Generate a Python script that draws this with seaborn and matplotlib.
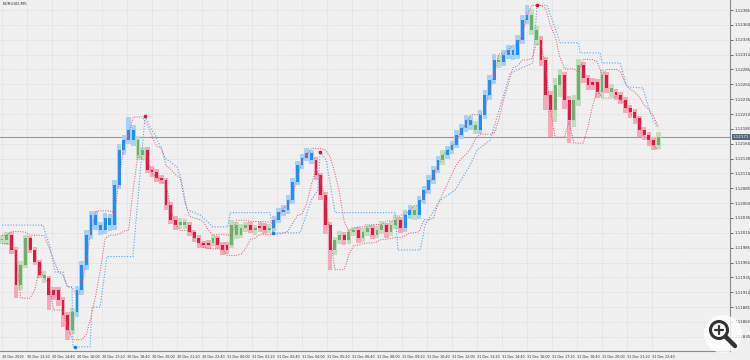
import numpy as np
import pandas as pd
import matplotlib
matplotlib.use("Agg")
import matplotlib.pyplot as plt
import matplotlib.transforms as mtransforms
from matplotlib.patches import Circle
import seaborn as sns

# ---------------- data ----------------
chart_title = "EURUSD,M5"
bar_minutes = 15
first_open = 1.12000

closes = [
    1.11998, 1.12007, 1.11981, 1.11922, 1.11956, 1.12001, 1.11981, 1.11961, 1.11939, 1.11934,
    1.11905, 1.11914, 1.11897, 1.11872, 1.11847, 1.11877, 1.11914, 1.11956, 1.12007, 1.12040,
    1.12023, 1.12015, 1.12035, 1.12023, 1.12091, 1.12149, 1.12166, 1.12183, 1.12166, 1.12141,
    1.12149, 1.12116, 1.12112, 1.12102, 1.12099, 1.12057, 1.12032, 1.12023, 1.12028, 1.12023,
    1.12011, 1.12001, 1.11993, 1.11990, 1.11993, 1.12001, 1.11990, 1.11981, 1.11990, 1.12023,
    1.12007, 1.12018, 1.12023, 1.12015, 1.12018, 1.12022, 1.12015, 1.12018, 1.12032, 1.12045,
    1.12049, 1.12065, 1.12096, 1.12124, 1.12136, 1.12144, 1.12133, 1.12107, 1.12074, 1.12023,
    1.11981, 1.11998, 1.12007, 1.11998, 1.12011, 1.12015, 1.12001, 1.12011, 1.12018, 1.12007,
    1.12015, 1.12023, 1.12011, 1.12023, 1.12032, 1.12018, 1.12040, 1.12049, 1.12040, 1.12065,
    1.12082, 1.12099, 1.12116, 1.12133, 1.12141, 1.12149, 1.12158, 1.12175, 1.12186, 1.12200,
    1.12191, 1.12183, 1.12208, 1.12242, 1.12267, 1.12301, 1.12297, 1.12309, 1.12318, 1.12309,
    1.12335, 1.12368, 1.12377, 1.12351, 1.12335, 1.12301, 1.12242, 1.12217, 1.12259, 1.12276,
    1.12234, 1.12200, 1.12234, 1.12292, 1.12271, 1.12259, 1.12264, 1.12247, 1.12276, 1.12254,
    1.12247, 1.12242, 1.12234, 1.12220, 1.12213, 1.12203, 1.12183, 1.12175, 1.12166, 1.12158,
    1.12171,
]

# upper / lower wick lengths in points (1 point = 0.00001)
wick_up = [
    6, 5, 4, 5, 6, 5, 4, 5, 4, 6,
    4, 5, 4, 5, 4, 6, 6, 7, 8, 6,
    7, 6, 8, 6, 8, 10, 9, 22, 8, 7,
    6, 5, 7, 5, 6, 4, 5, 6, 7, 5,
    5, 4, 5, 4, 5, 6, 4, 5, 4, 8,
    6, 7, 5, 6, 5, 6, 4, 6, 7, 6,
    7, 8, 6, 7, 6, 8, 5, 5, 4, 4,
    6, 5, 6, 4, 6, 5, 4, 7, 6, 5,
    6, 7, 4, 7, 8, 5, 8, 7, 6, 7,
    6, 8, 7, 6, 8, 7, 6, 8, 7, 9,
    6, 7, 8, 9, 8, 10, 8, 9, 8, 7,
    8, 9, 16, 10, 8, 6, 5, 6, 12, 10,
    5, 6, 8, 10, 6, 5, 7, 5, 9, 5,
    6, 5, 5, 4, 5, 5, 4, 5, 4, 5,
    8,
]
wick_dn = [
    6, 8, 6, 22, 8, 6, 5, 6, 5, 8,
    25, 8, 10, 20, 17, 8, 8, 9, 8, 7,
    8, 9, 7, 10, 9, 7, 8, 7, 9, 8,
    7, 6, 8, 6, 7, 8, 7, 9, 6, 7,
    6, 7, 8, 6, 7, 6, 8, 9, 7, 6,
    8, 6, 7, 6, 8, 6, 7, 6, 5, 6,
    6, 7, 6, 5, 6, 5, 7, 8, 9, 15,
    33, 8, 7, 9, 6, 7, 8, 6, 7, 8,
    6, 7, 9, 6, 7, 8, 6, 7, 8, 6,
    7, 6, 7, 6, 8, 6, 7, 6, 7, 6,
    8, 7, 6, 7, 8, 7, 9, 6, 7, 8,
    6, 7, 6, 8, 9, 10, 25, 46, 20, 20,
    15, 39, 12, 10, 9, 8, 9, 10, 8, 9,
    8, 9, 7, 8, 10, 9, 11, 8, 10, 9,
    7,
]

# bar colour state: B = up trend (blue), R = down trend (red), G = neutral (green)
bar_states = (
    "GGRRGGRRRG" "RRRRRGBBBB" "BBBBBBBBBG" "GRRRRRRRGG" "RRRRRGRRRG"
    "GGGRGRRGBB" "BBBBBBBRRR" "RGGRGGRGGR" "GGRGGRBBGB" "BBBBGBBBBB"
    "BGBBBBGBBB" "BBBGGRRRGG" "RRGGRRRRGR" "GRRRRRRRRR" "G"
)

# blue dotted trailing line (minutes since first bar, price)
stop_minutes = [0, 131, 154, 170, 195, 208, 224, 227, 282, 288, 314, 336, 419,
                458, 474, 490, 522, 560, 573, 592, 634, 675, 723, 730, 858,
                867, 954, 990, 1011, 1018, 1037, 1066, 1258, 1267, 1338, 1354,
                1402, 1450, 1498, 1520, 1562, 1626, 1699, 1712, 1744, 1776,
                1786, 1845, 1850, 1914, 1920, 1978, 2000, 2051, 2074, 2096]
stop_prices = [1.12023, 1.12023, 1.11986, 1.11944, 1.11944, 1.11919, 1.11919,
               1.11818, 1.11818, 1.11885, 1.11885, 1.11970, 1.11970, 1.12207,
               1.12188, 1.12175, 1.12136, 1.12121, 1.12102, 1.12049, 1.12040,
               1.12020, 1.12020, 1.12044, 1.12044, 1.12010, 1.12010, 1.12065,
               1.12082, 1.12146, 1.12133, 1.12044, 1.12044, 1.11981, 1.11981,
               1.12023, 1.12065, 1.12082, 1.12124, 1.12149, 1.12166, 1.12279,
               1.12296, 1.12393, 1.12393, 1.12346, 1.12330, 1.12330, 1.12313,
               1.12313, 1.12296, 1.12296, 1.12256, 1.12254, 1.12212, 1.12187]

sell_minutes = [458, 1018, 1712]
sell_prices = [1.12207, 1.12146, 1.12393]
buy_minutes = [234, 867]
buy_prices = [1.11818, 1.12010]

x_tick_labels = [
    "30 Dec 2019", "30 Dec 13:20", "30 Dec 14:40", "30 Dec 16:00", "30 Dec 17:20",
    "30 Dec 18:40", "30 Dec 20:00", "30 Dec 21:20", "30 Dec 22:40", "31 Dec 00:00",
    "31 Dec 01:20", "31 Dec 02:40", "31 Dec 04:00", "31 Dec 05:20", "31 Dec 06:40",
    "31 Dec 08:00", "31 Dec 09:20", "31 Dec 10:40", "31 Dec 12:00", "31 Dec 13:20",
    "31 Dec 14:40", "31 Dec 16:00", "31 Dec 17:20", "31 Dec 18:40", "31 Dec 20:00",
    "31 Dec 21:20", "31 Dec 22:40",
]
x_tick_step_minutes = 80

y_tick_labels = [
    "1.11835", "1.11860", "1.11885", "1.11910", "1.11935", "1.11960", "1.11985",
    "1.12010", "1.12035", "1.12060", "1.12085", "1.12110", "1.12135", "1.12160",
    "1.12185", "1.12210", "1.12235", "1.12260", "1.12285", "1.12310", "1.12335",
    "1.12360", "1.12385",
]

# ---------------- styling ----------------
BG = "#f0f0f0"
GRID = "#d6d6d6"
COL = {"B": ("#1e8ff5", "#a9d0f5"), "R": ("#dc1a44", "#f4aab9"), "G": ("#6fb06c", "#bfdfbc")}
RED_DOT_LINE = "#e0506e"
BLUE_DOT_LINE = "#5ba3e6"
DOTS = (0, (1, 1.5))

sns.set_theme(style="white")
plt.rcParams["font.family"] = ["DejaVu Sans"]

fig = plt.figure(figsize=(7.5, 3.6), dpi=100, facecolor=BG)
ax = fig.add_axes([0.0, 9 / 360, 730 / 750, 351 / 360])
ax.set_facecolor(BG)

n = len(closes)
df = pd.DataFrame({
    "minute": np.arange(n) * bar_minutes,
    "close": closes,
    "state": list(bar_states[:n]),
})
df["open"] = [first_open] + closes[:-1]
df["high"] = np.maximum(df["open"], df["close"]) + np.array(wick_up) * 1e-5
df["low"] = np.minimum(df["open"], df["close"]) - np.array(wick_dn) * 1e-5
df["body_lo"] = np.minimum(df["open"], df["close"])
df["body_h"] = np.maximum((df["close"] - df["open"]).abs(), 1.5e-5)

# lagging channel of the recent bar extremes
df["env_hi"] = df["high"].rolling(3, min_periods=1).max().shift(1).bfill()
df["env_lo"] = df["low"].rolling(3, min_periods=1).min().shift(1).bfill()

# candles: light range then saturated body
for st, (dark, light) in COL.items():
    d = df[df["state"] == st]
    ax.bar(d["minute"], d["high"] - d["low"], bottom=d["low"], width=14.5,
           color=light, linewidth=0, zorder=2)
for st, (dark, light) in COL.items():
    d = df[df["state"] == st]
    ax.bar(d["minute"], d["body_h"], bottom=d["body_lo"], width=9,
           color=dark, linewidth=0, zorder=3)

sns.lineplot(x=df["minute"], y=df["env_hi"], ax=ax, color=RED_DOT_LINE, lw=0.7,
             linestyle=DOTS, zorder=4)
sns.lineplot(x=df["minute"], y=df["env_lo"], ax=ax, color=RED_DOT_LINE, lw=0.7,
             linestyle=DOTS, zorder=4)
sns.lineplot(x=stop_minutes, y=stop_prices, ax=ax, sort=False, estimator=None,
             color=BLUE_DOT_LINE, lw=0.8, linestyle=DOTS, zorder=4)

sns.scatterplot(x=sell_minutes, y=sell_prices, ax=ax, color="#e0102a", s=7,
                linewidth=0, zorder=6)
sns.scatterplot(x=buy_minutes, y=buy_prices, ax=ax, color="#1e7fe0", s=7,
                linewidth=0, zorder=6)

# bid line and price box
last = closes[-1]
ax.axhline(last, color="#9a9a9a", lw=0.8, zorder=1)
trans = mtransforms.blended_transform_factory(ax.transAxes, ax.transData)
ax.text(1.004, last, f"{last:.5f}", transform=trans, fontsize=3, color="white",
        va="center", ha="left",
        bbox=dict(boxstyle="square,pad=0.25", facecolor="#55657a", edgecolor="none"),
        zorder=10, clip_on=False)

# axes
ax.set_xlim(-6.4, 2329.6)
ax.set_ylim(1.11811, 1.12402)
xt = [i * x_tick_step_minutes for i in range(len(x_tick_labels))]
ax.set_xticks(xt)
ax.set_xticklabels(x_tick_labels, ha="left")
yv = [float(s) for s in y_tick_labels]
ax.set_yticks(yv)
ax.set_yticklabels(y_tick_labels)
ax.yaxis.tick_right()
ax.tick_params(axis="x", labelsize=2.4, length=2, width=0.5, pad=1, colors="#333333",
               direction="out")
ax.tick_params(axis="y", labelsize=2.9, length=2, width=0.5, pad=1.5, colors="#333333",
               direction="out")
ax.grid(True, linestyle=DOTS, color=GRID, lw=0.6)
ax.set_axisbelow(True)
for side in ["left", "top"]:
    ax.spines[side].set_visible(False)
for side in ["right", "bottom"]:
    ax.spines[side].set_color("#8a8a8a")
    ax.spines[side].set_linewidth(0.8)
ax.set_xlabel("")
ax.set_ylabel("")

ax.text(0.004, 0.993, chart_title, transform=ax.transAxes, fontsize=3, va="top",
        ha="left", color="#333333")

# viewer magnifier badge (bottom-right overlay), drawn in pixel units
ov = fig.add_axes([0, 0, 1, 1], facecolor="none")
ov.set_xlim(0, 750)
ov.set_ylim(360, 0)
ov.axis("off")
ov.add_patch(Circle((723, 334), 19, facecolor="white", alpha=0.8, edgecolor="none"))
ov.add_patch(Circle((719, 330), 8.5, facecolor="none", edgecolor="#333333", lw=2.2))
ov.plot([725.5, 735], [336.5, 346], color="#333333", lw=3.2, solid_capstyle="round")
ov.plot([715, 723], [330, 330], color="#333333", lw=1.6)
ov.plot([719, 719], [326, 334], color="#333333", lw=1.6)

fig.savefig("out.png", dpi=100, facecolor=BG)
